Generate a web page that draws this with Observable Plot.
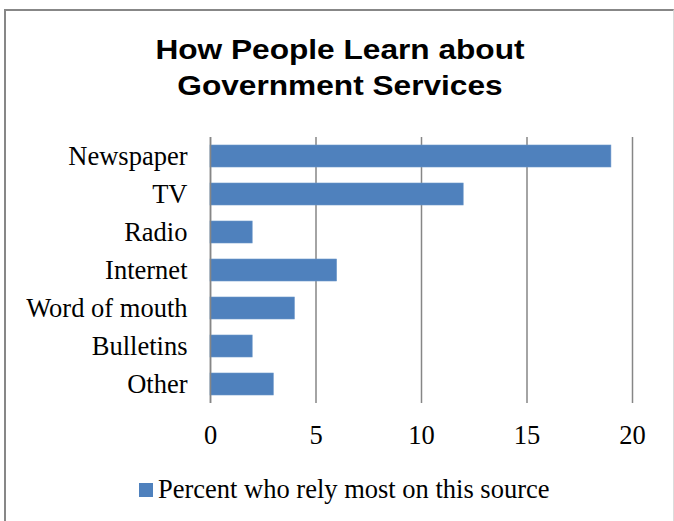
<!DOCTYPE html>
<html><head><meta charset="utf-8">
<script src="https://cdn.jsdelivr.net/npm/d3@7"></script>
<script src="https://cdn.jsdelivr.net/npm/@observablehq/plot@0.6"></script>
<style>
body{margin:0;width:674px;height:521px;overflow:hidden;background:#fff;position:relative}
#frame{position:absolute;left:4px;top:9px;width:667px;height:600px;border-left:2px solid #878787;border-top:2px solid #878787;border-right:1px solid #dcdcdc}
#title{position:absolute;left:0;top:31px;width:680px;text-align:center;font-family:"Liberation Sans",Arial,sans-serif;font-weight:bold;font-size:28.5px;line-height:36px;transform:scaleX(1.11);transform-origin:340px 0;color:#000}
#chart{position:absolute;left:0;top:117px}
#legend{position:absolute;left:139px;top:475px;height:28px;font-family:"Liberation Serif","Times New Roman",serif;font-size:26.5px;line-height:28px;color:#000;white-space:nowrap}
#legend .sw{position:absolute;left:0;top:8px;width:14px;height:14px;background:#4F81BD}
#legend .tx{position:absolute;left:19px;top:0}
</style></head>
<body>
<div id="frame"></div>
<div id="title">How People Learn about<br>Government Services</div>
<div id="chart"></div>
<div id="legend"><span class="sw"></span><span class="tx" id="legendText"></span></div>
<script>
const categories = ["Newspaper", "TV", "Radio", "Internet", "Word of mouth", "Bulletins", "Other"];
const values = [19, 12, 2, 6, 4, 2, 3];
const xTicks = [0, 5, 10, 15, 20];
const seriesName = "Percent who rely most on this source";

const data = categories.map((c, i) => ({category: c, value: values[i]}));

const chart = Plot.plot({
  width: 674,
  height: 340,
  marginLeft: 210,
  marginRight: 42,
  marginTop: 20,
  marginBottom: 54,
  x: {domain: [0, 20]},
  y: {domain: categories, paddingInner: 0.42, paddingOuter: 0.21},
  style: {fontFamily: "'Liberation Serif','Times New Roman',serif", fontSize: "26.5px", color: "#000", background: "transparent", overflow: "visible"},
  marks: [
    Plot.ruleX(xTicks, {stroke: "#868686", strokeWidth: 1.5}),
    Plot.barX(data, {x: "value", y: "category", fill: "#4F81BD", stroke: "#6C97CA", strokeWidth: 0.6}),
    Plot.ruleX([0], {stroke: "#868686", strokeWidth: 1.5}),
    Plot.axisX({ticks: xTicks, tickSize: 0, tickPadding: 22, label: null}),
    Plot.axisY({tickSize: 0, tickPadding: 23, label: null})
  ]
});
document.getElementById("chart").appendChild(chart);
document.getElementById("legendText").textContent = seriesName;
</script>
</body></html>
